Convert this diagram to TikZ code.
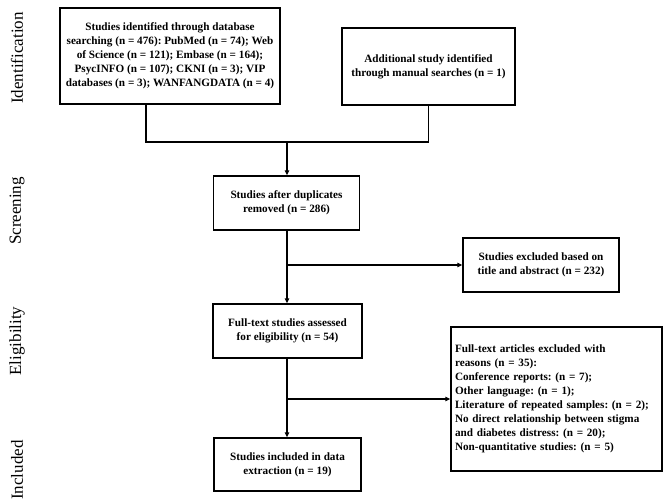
\documentclass[tikz,border=0pt]{standalone}
\usepackage{fontspec}
\setmainfont{Liberation Serif}
\usetikzlibrary{arrows.meta}
\frenchspacing
\begin{document}
\begin{tikzpicture}[x=1pt,y=-1pt,
  box/.style={draw=black, line width=1.4pt, inner sep=2pt, align=center,
    font=\fontsize{11.2}{14}\selectfont\bfseries\frenchspacing},
  phase/.style={rotate=90, font=\fontsize{17}{20}\selectfont, anchor=center},
  conn/.style={line width=1.4pt},
  arr/.style={conn, -{Triangle[length=5pt,width=4.5pt]}}]
\useasboundingbox (0,0) rectangle (669,502);
\node[box, minimum width=220pt, minimum height=96pt] (b1) at (170,56)
  {Studies identified through database\\searching (n = 476): PubMed (n = 74); Web\\of Science (n = 121); Embase (n = 164);\\PsycINFO (n = 107); CKNI (n = 3); VIP\\databases (n = 3); WANFANGDATA (n = 4)};
\node[box, minimum width=173pt, minimum height=77pt] (b2) at (428.5,66.5)
  {Additional study identified\\through manual searches (n = 1)};
\node[box, minimum width=146pt, minimum height=54pt] (b3) at (286.5,203)
  {Studies after duplicates\\removed (n = 286)};
\node[box, minimum width=156pt, minimum height=54pt] (b4) at (541,265)
  {Studies excluded based on\\title and abstract (n = 232)};
\node[box, minimum width=149pt, minimum height=54pt] (b5) at (287.5,331)
  {Full-text studies assessed\\for eligibility (n = 54)};
\node[box, minimum width=211pt, minimum height=144pt, align=left, text width=203pt] (b6) at (556.5,399)
  {Full-text articles excluded with\\reasons (n = 35):\\Conference reports: (n = 7);\\Other language: (n = 1);\\Literature of repeated samples: (n = 2);\\No direct relationship between stigma\\and diabetes distress: (n = 20);\\Non-quantitative studies: (n = 5)};
\node[box, minimum width=147pt, minimum height=53pt] (b7) at (287.5,464.5)
  {Studies included in data\\extraction (n = 19)};
\node[phase] (p1) at (17,58) {Identification};
\node[phase] (p2) at (17,211) {Screening};
\node[phase] (p3) at (17,341) {Eligibility};
\node[phase] (p4) at (17,470) {Included};
\coordinate (j1) at (146,142);
\coordinate (j2) at (428.5,142);
\coordinate (jm) at (287,142);
\coordinate (k1) at (287,265);
\coordinate (k2) at (287,399);
\draw[conn] (j1 |- b1.south) -- (j1) -- (j2) -- (j2 |- b2.south);
\draw[arr] (jm) -- (jm |- b3.north);
\draw[arr] (jm |- b3.south) -- (jm |- b5.north);
\draw[arr] (k1) -- (b4.west);
\draw[arr] (jm |- b5.south) -- (jm |- b7.north);
\draw[arr] (k2) -- (b6.west);
\end{tikzpicture}
\end{document}
